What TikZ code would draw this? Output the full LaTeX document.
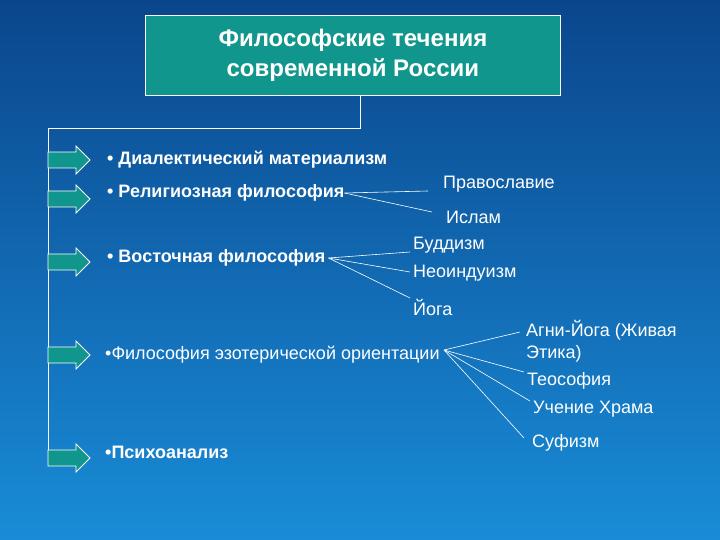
\documentclass[tikz,border=0pt]{standalone}
\usepackage{fontspec}
\setmainfont{Liberation Sans}
\begin{document}
\begin{tikzpicture}[x=1pt,y=-1pt,
 item/.style={anchor=west,text=white,font=\fontsize{18}{20}\selectfont\bfseries,inner sep=0},
 sub/.style={anchor=west,text=white,font=\fontsize{18}{22}\selectfont,inner sep=0,align=left},
 conn/.style={draw=white,line width=0.6pt},
 arrfill/.style={fill={rgb,255:red,16;green,150;blue,140},draw=white,line width=0.8pt}]
\useasboundingbox[top color={rgb,255:red,10;green,70;blue,140},bottom color={rgb,255:red,25;green,140;blue,215}] (0,0) rectangle (720,540);
\node[draw=white,line width=0.8pt,fill={rgb,255:red,16;green,150;blue,140},minimum width=415,minimum height=80,anchor=north west,text=white,font=\fontsize{24}{30}\selectfont\bfseries,align=center] (title) at (145,15) {Философские течения\\современной России};
\coordinate (c1) at (360,128);
\coordinate (c2) at (48,128);
\coordinate (c3) at (48,462);
\draw[white,line width=0.8pt] (title.south -| c1) -- (c1) -- (c2) -- (c3);
\foreach \n/\y in {a1/160,a2/199,a3/262,a4/355,a5/458}
  \draw[arrfill] (48,\y-8) coordinate (\n) -- (76,\y-8) -- (76,\y-14) -- (90,\y) -- (76,\y+14) -- (76,\y+8) -- (48,\y+8) -- cycle;
\node[item] (t1) at (107,160) {• Диалектический материализм};
\node[item] (t2) at (107,193) {• Религиозная философия};
\node[item] (t3) at (107,258) {• Восточная философия};
\node[item,font=\fontsize{18}{20}\selectfont] (t4) at (105,355) {•Философия эзотерической ориентации};
\node[item] (t5) at (105,452) {•Психоанализ};
\node[sub] (p1) at (443,184) {Православие};
\node[sub] (p2) at (446,217) {Ислам};
\node[sub] (b1) at (413,245) {Буддизм};
\node[sub] (b2) at (413,273) {Неоиндуизм};
\node[sub] (b3) at (413,307) {Йога};
\node[sub] (e1) at (526,341) {Агни-Йога (Живая\\Этика)};
\node[sub] (e2) at (527,381) {Теософия};
\node[sub] (e3) at (533,409) {Учение Храма};
\node[sub] (e4) at (532,443) {Суфизм};
\coordinate (j1) at (428,191); \coordinate (j2) at (432,212);
\draw[conn] (t2.east) -- (j1); \draw[conn] (t2.east) -- (j2);
\coordinate (k1) at (410,252); \coordinate (k2) at (410,272); \coordinate (k3) at (410,298);
\foreach \k in {k1,k2,k3} \draw[conn] (t3.east) ++(3,0) -- (\k);
\coordinate (m0) at (444,350);
\coordinate (m1) at (520,332); \coordinate (m2) at (524,372); \coordinate (m3) at (530,401); \coordinate (m4) at (524,438);
\foreach \m in {m1,m2,m3,m4} \draw[conn] (m0) -- (\m);
\end{tikzpicture}
\end{document}
